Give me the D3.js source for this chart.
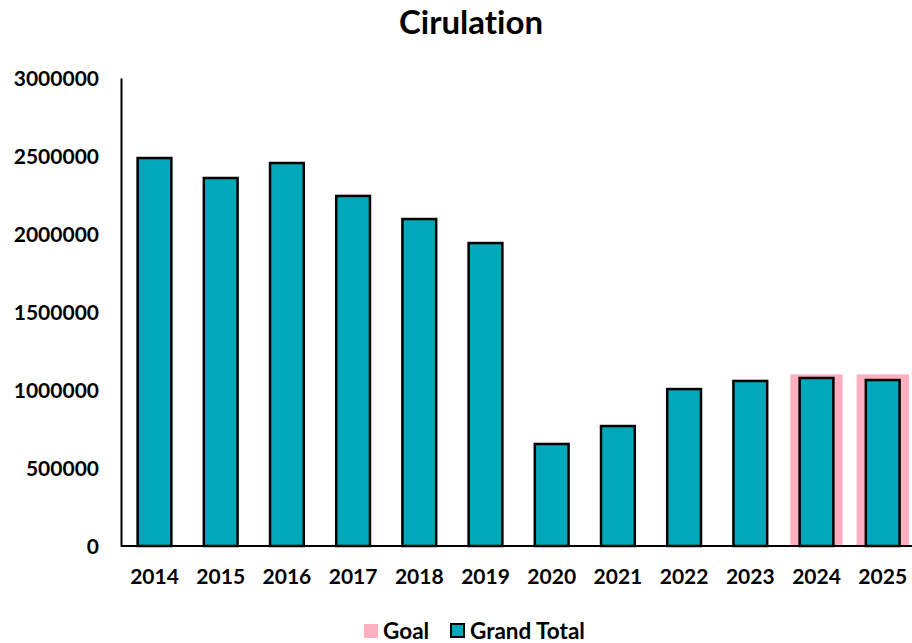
<!DOCTYPE html>
<html>
<head>
<meta charset="utf-8">
<script src="https://cdn.jsdelivr.net/npm/d3@7/dist/d3.min.js"></script>
<style>
  html, body { margin: 0; padding: 0; background: #fff; }
  svg { display: block; }
  text { font-family: Lato, "Open Sans", sans-serif; font-weight: 700; fill: #000; font-variant-ligatures: none; font-feature-settings: "liga" 0; }
</style>
</head>
<body>
<svg id="chart" width="912" height="643"></svg>
<script>
const title = "Cirulation";
const years = ["2014","2015","2016","2017","2018","2019","2020","2021","2022","2023","2024","2025"];
const grandTotal = [2487000, 2359000, 2455000, 2244000, 2096000, 1942000, 654000, 769000, 1006000, 1058000, 1077000, 1064000];
const goal = [null, null, null, null, null, null, null, null, null, null, 1100000, 1100000];
const yTicks = [0, 500000, 1000000, 1500000, 2000000, 2500000, 3000000];
const legendLabels = ["Goal", "Grand Total"];

const teal = "#00A9B9";
const pink = "#FFAFBF";

const svg = d3.select("#chart");
const x = d3.scaleBand().domain(years).range([121.4, 915.8]).paddingInner(0).paddingOuter(0);
const y = d3.scaleLinear().domain([0, 3000000]).range([546, 78]);

// title
svg.append("text").attr("x", 471).attr("y", 34).attr("text-anchor", "middle")
  .style("font-size", "33px").text(title);

// goal bars (behind)
const goalW = x.bandwidth() * 0.79;
svg.append("g").selectAll("rect").data(years.map((d, i) => ({year: d, v: goal[i]})).filter(d => d.v != null))
  .join("rect")
  .attr("x", d => x(d.year) + (x.bandwidth() - goalW) / 2)
  .attr("width", goalW)
  .attr("y", d => y(d.v))
  .attr("height", d => y(0) - y(d.v))
  .attr("fill", pink);

// grand total bars
const barW = x.bandwidth() * 0.51;
svg.append("g").selectAll("rect").data(years.map((d, i) => ({year: d, v: grandTotal[i]})))
  .join("rect")
  .attr("x", d => x(d.year) + (x.bandwidth() - barW) / 2)
  .attr("width", barW)
  .attr("y", d => y(d.v))
  .attr("height", d => y(0) - y(d.v))
  .attr("fill", teal)
  .attr("stroke", "#000")
  .attr("stroke-width", 2.5);

// y axis
const yAxis = d3.axisLeft(y).tickValues(yTicks).tickSize(0).tickPadding(22).tickFormat(d3.format("d"));
const gy = svg.append("g").attr("transform", "translate(121,0)").call(yAxis);
gy.select(".domain").attr("stroke", "#000").attr("stroke-width", 2);
gy.selectAll("text").style("font-size", "21px").style("font-family", "Lato, sans-serif").attr("dy", "0.36em");

// x axis
const xAxis = d3.axisBottom(x).tickSize(0).tickPadding(23);
const gx = svg.append("g").attr("transform", "translate(0,546)").call(xAxis);
gx.select(".domain").attr("stroke", "#000").attr("stroke-width", 2).attr("d", "M121,0H912");
gx.selectAll("text").style("font-size", "21px").style("font-family", "Lato, sans-serif");

// legend
const leg = svg.append("g");
leg.append("rect").attr("x", 364).attr("y", 624).attr("width", 14).attr("height", 14).attr("fill", pink);
leg.append("text").attr("x", 383).attr("y", 631).attr("dy", "0.36em").style("font-size", "22.5px").text(legendLabels[0]);
leg.append("rect").attr("x", 451).attr("y", 624).attr("width", 13).attr("height", 13)
  .attr("fill", teal).attr("stroke", "#000").attr("stroke-width", 2);
leg.append("text").attr("x", 470).attr("y", 631).attr("dy", "0.36em").style("font-size", "22.5px").text(legendLabels[1]);
</script>
</body>
</html>
